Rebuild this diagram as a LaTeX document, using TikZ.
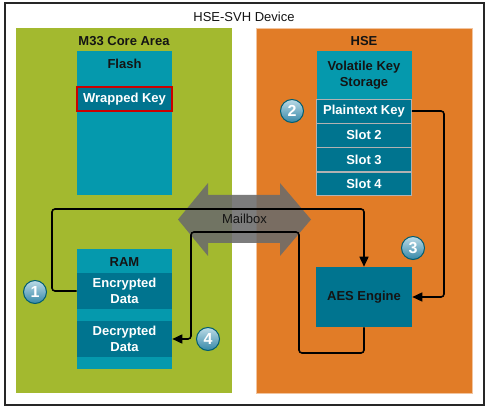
\documentclass[tikz,border=0pt]{standalone}
\usepackage{fontspec}
\setmainfont{Liberation Sans}
\usepackage{xcolor}
\usetikzlibrary{arrows.meta}

\definecolor{coregreen}{HTML}{A3B92F}
\definecolor{hseorange}{HTML}{E17C27}
\definecolor{lightteal}{HTML}{0599AD}
\definecolor{darkteal}{HTML}{00748F}
\definecolor{ballblue}{HTML}{3C97BA}
\definecolor{textdark}{HTML}{141414}

\tikzset{
    area/.style={minimum width=216pt, minimum height=365pt, inner sep=0pt},
    memblk/.style={fill=lightteal, minimum width=95pt, inner sep=0pt},
    cell/.style={fill=darkteal, draw=gray!60, line width=0.6pt, text=white,
        minimum width=95pt, minimum height=24pt, inner sep=0pt, align=center},
    numball/.style={circle, top color=ballblue!35!white, bottom color=ballblue!90!black,
        draw=darkteal!80!black, line width=1pt, minimum size=23pt,
        inner sep=0pt, text=white, font=\fontsize{16}{16}\selectfont\bfseries},
    flow/.style={line width=1.6pt, rounded corners=3pt,
        -{Triangle[length=10pt,width=9pt]}}
}

\begin{document}
\begin{tikzpicture}[x=1pt, y=-1pt,
        every node/.style={font=\fontsize{13}{15}\selectfont\bfseries, text=textdark}]
    \useasboundingbox (0,0) rectangle (488,409);
    \fill[white] (0,0) rectangle (488,409);
    \draw[line width=1.2pt, black!85] (5,3) rectangle (484,405);
    \node[font=\fontsize{13}{15}\selectfont] (device) at (244,17) {HSE-SVH Device};

    % the two areas
    \node[area, fill=coregreen] (core) at (124,210.5) {};
    \node[area, fill=hseorange, draw=hseorange!45, line width=0.8pt] (hse) at (364,210.5) {};
    \node (coretitle) at (124,41) {M33 Core Area};
    \node (hsetitle) at (364,41) {HSE};

    % flash
    \node[memblk, minimum height=144pt] (flash) at (124.5,123) {};
    \node (flashtitle) at (124.5,64) {Flash};
    \node[cell, draw=red!80!black, line width=2pt, minimum height=24pt] (wkey) at (124.5,99.5) {Wrapped Key};

    % key storage
    \node[memblk, minimum height=48pt, align=center, font=\fontsize{13}{16}\selectfont\bfseries] (keystore) at (364,75) {Volatile Key\\Storage};
    \node[cell] (ptkey) at (364,111) {Plaintext Key};
    \node[cell] (slot2) at (364,135) {Slot 2};
    \node[cell] (slot3) at (364,159.5) {Slot 3};
    \node[cell, minimum height=23pt] (slot4) at (364,183.5) {Slot 4};

    % ram
    \node[memblk, minimum height=120pt] (ram) at (124.5,309) {};
    \node (ramtitle) at (124.5,262) {RAM};
    \node[cell, draw=none, minimum height=36pt, font=\fontsize{13}{16}\selectfont\bfseries] (enc) at (124.5,291) {Encrypted\\Data};
    \node[cell, draw=none, minimum height=36pt, font=\fontsize{13}{16}\selectfont\bfseries] (dec) at (124.5,339) {Decrypted\\Data};

    % engine
    \node[cell, draw=none, text=textdark, minimum width=96pt, minimum height=60pt] (aes) at (364,297) {AES Engine};

    % mailbox
    \fill[black!58, opacity=0.88] (178,219.5) -- (208,183) -- (208,195) -- (280,195) -- (280,183)
        -- (311,219.5) -- (280,256) -- (280,243) -- (208,243) -- (208,256) -- cycle;
    \node[font=\fontsize{13}{15}\selectfont] (mailbox) at (244.5,219) {Mailbox};

    % steps
    \coordinate (c1) at (52,209);
    \coordinate (c2) at (444,297);
    \coordinate (c3) at (299,353);
    \coordinate (c4) at (191,232);
    \draw[flow] (enc.west) -| (c1) -| (aes.north);
    \draw[flow] (ptkey.east) -| (c2) -- (aes.east);
    \draw[flow] (aes.south) |- (c3) |- (c4) |- (dec.east);

    \node[numball] (n1) at (35,292) {1};
    \node[numball] (n2) at (292,111) {2};
    \node[numball] (n3) at (413,248) {3};
    \node[numball] (n4) at (208,339) {4};
\end{tikzpicture}
\end{document}
